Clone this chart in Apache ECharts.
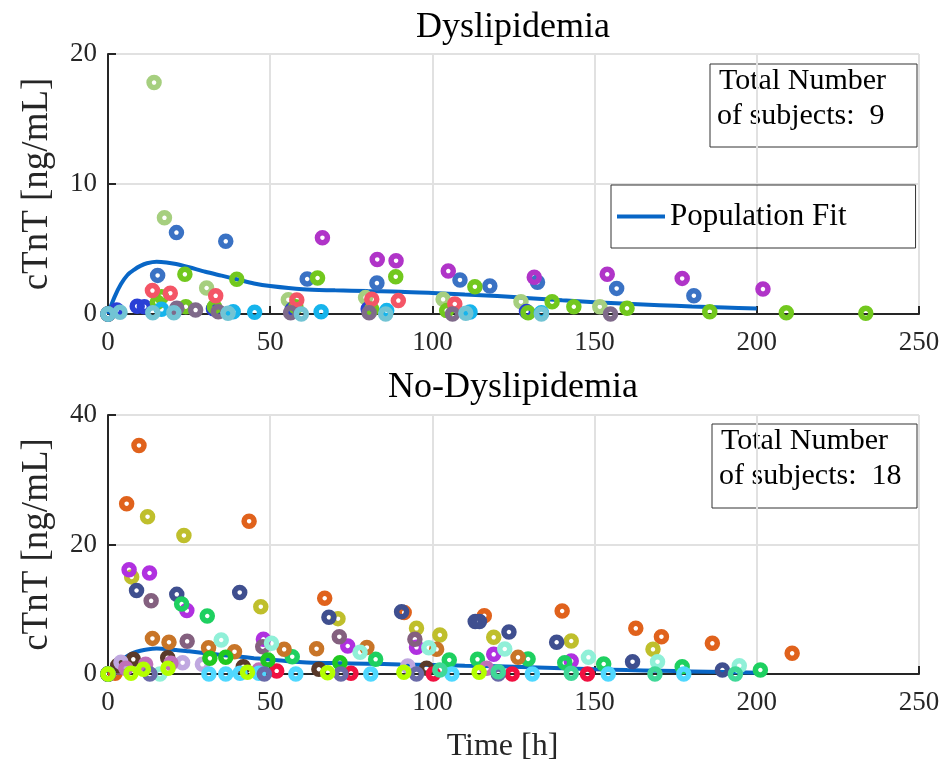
<!DOCTYPE html>
<html>
<head>
<meta charset="utf-8">
<title>cTnT</title>
<script src="https://cdn.jsdelivr.net/npm/echarts@6/dist/echarts.min.js"></script>
<style>
	html, body { margin: 0; padding: 0; background: #fff; }
	#main { width: 950px; height: 764px; }
</style>
</head>
<body>
<div id="main"></div>
<script>
// time axis ticks (h) and value ticks
const timeTicks = [0, 50, 100, 150, 200, 250];
const dysTicks = [0, 10, 20];
const noDysTicks = [0, 20, 40];

// population fit curves
const fitT = [0, 2, 4, 6, 8, 10, 12, 15, 18, 21, 25, 30, 35, 40, 45, 50, 60, 70, 80, 90, 100, 110, 120, 130, 140, 150, 160, 170, 180, 190, 200];
const fitDys = [0, 1.3, 2.3, 3.0, 3.4, 3.7, 3.9, 4.02, 3.97, 3.85, 3.6, 3.25, 2.95, 2.65, 2.35, 2.15, 1.9, 1.82, 1.76, 1.72, 1.62, 1.5, 1.38, 1.22, 1.05, 0.9, 0.78, 0.68, 0.58, 0.5, 0.42];
const fitNoDys = [0, 1.2, 2.1, 2.8, 3.3, 3.6, 3.8, 3.92, 3.85, 3.7, 3.5, 3.2, 2.95, 2.7, 2.45, 2.25, 1.82, 1.68, 1.58, 1.48, 1.39, 1.28, 1.18, 1.06, 0.88, 0.72, 0.6, 0.5, 0.4, 0.3, 0.2];

// Dyslipidemia subjects, [time, cTnT]
const dys1 = [[0, 0], [14.2, 17.8], [17.4, 7.4], [30.4, 2.0], [55.6, 1.1], [79.4, 1.26], [103.3, 1.13], [127.3, 0.95], [151.6, 0.56]];
const dys2 = [[0, 0], [15.3, 2.97], [21.1, 6.26], [36.3, 5.59], [61.4, 2.69], [82.9, 2.38], [108.5, 2.62], [117.7, 2.15], [132.4, 2.44], [156.8, 1.97], [180.6, 1.41]];
const dys3 = [[2.7, 0.3], [9.0, 0.6], [11.2, 0.56], [32.5, 0.4], [56.8, 0.35], [80.2, 0.38], [129, 0.2]];
const dys4 = [[0, 0], [66.1, 5.87], [83, 4.2], [88.8, 4.1], [104.9, 3.3], [131.4, 2.82], [153.9, 3.05], [177, 2.74], [201.9, 1.92]];
const dys5 = [[0, 0], [15.2, 0.9], [16.5, 1.33], [23.7, 3.05], [24, 0.56], [32.8, 0.56], [39.7, 2.67], [57.9, 0.56], [64.6, 2.77], [81.3, 0.36], [88.7, 2.87], [104.4, 0.26], [113.1, 2.1], [129.5, 0.1], [136.9, 0.95], [143.6, 0.56], [160, 0.44], [185.5, 0.18], [209.1, 0.1], [233.6, 0.05]];
const dys6 = [[0, 0], [13.7, 1.8], [19.2, 1.6], [33.2, 1.4], [58.2, 1.08], [81.3, 1.13], [89.5, 1.03], [106.9, 0.77]];
const dys7 = [[0, 0], [21.2, 0.44], [27, 0.3], [34, 0.18], [56.3, 0.1], [80.5, 0.1], [106.2, 0], [154.9, 0]];
const dys8 = [[0, 0], [16.5, 0.36], [38.6, 0.18], [45.2, 0.13], [65.7, 0.18], [85.9, 0.26], [111.6, 0.15], [133.6, 0.1]];
const dys9 = [[0, 0], [3.7, 0.13], [13.8, 0.1], [20.3, 0.1], [37, 0.05], [59.6, 0], [85.6, 0], [110.3, 0.05], [133.6, 0]];

// No-Dyslipidemia subjects, [time, cTnT]
const nod1 = [[2.2, 0.1], [5.75, 26.3], [9.55, 35.3], [43.5, 23.6], [66.8, 11.7], [91.3, 9.5], [116, 9.0], [140, 9.73], [162.7, 7.06], [170.6, 5.76], [186.3, 4.74], [210.9, 3.19]];
const nod2 = [[0, 0], [7.3, 15.0], [12.2, 24.3], [23.4, 21.4], [47.1, 10.4], [70.9, 8.55], [95.1, 7.05], [102.3, 6.02], [118.9, 5.66], [142.8, 5.1], [168, 3.81]];
const nod3 = [[0, 0], [6.5, 16.1], [12.8, 15.6], [24.3, 9.8], [47.9, 5.36], [73.9, 4.32], [95.1, 4.12], [118.9, 3.04], [142.8, 2.0]];
const nod4 = [[0, 0], [8.8, 12.9], [21.2, 12.3], [40.6, 12.6], [68.1, 8.75], [90.5, 9.6], [113.2, 8.1], [114.5, 8.1], [123.6, 6.49], [138.3, 4.9], [161.7, 1.9], [189.4, 0.62]];
const nod5 = [[0, 0], [3.5, 1.0], [13.3, 11.3], [24.4, 5.05], [47.7, 4.22], [71.3, 5.76], [94.6, 5.36]];
const nod6 = [[0, 0], [22.7, 10.8], [30.6, 8.96], [56.8, 2.67], [82.5, 2.27], [105.2, 2.16], [113.9, 2.27], [129.5, 2.32], [140.8, 1.75], [152.8, 1.54], [177, 1.13], [201.1, 0.62]];
const nod7 = [[0, 0], [13.7, 5.5], [18.8, 4.9], [31, 4.07], [39, 3.45], [54.3, 3.81], [64.3, 3.91], [79.8, 4.1], [101.3, 3.81], [126.4, 2.57]];
const nod8 = [[16, 0], [34.9, 5.25], [50.4, 4.74], [77.7, 3.35], [98.9, 4.06], [122.3, 3.86], [148.1, 2.57], [169.4, 1.9], [194.6, 1.29]];
const nod9 = [[0, 0], [3, 1.3], [7.8, 2.27], [18.4, 2.52], [41.7, 1.13], [65, 0.73], [98.2, 0.88]];
const nod10 = [[0, 0], [4, 1.8], [23, 1.75], [29.1, 1.5], [92.4, 1.24]];
const nod11 = [[0, 0], [5.5, 0.9], [11.6, 1.5], [19.4, 1.65], [46.5, 0.6], [116.7, 0.88]];
const nod12 = [[31.1, 0], [36.3, 0], [40.7, 0.1], [46.5, 0.1], [57.9, 0], [81, 0], [106, 0], [130.8, 0], [154.2, 0], [177.5, 0]];
const nod13 = [[0, 0], [52, 0.46], [74.9, 0.1], [100.3, 0], [124.6, 0], [147.8, 0]];
const nod14 = [[0, 0], [31.4, 2.42], [36.3, 2.58], [49.3, 2.16], [71.5, 1.75]];
const nod15 = [[0, 0], [12.9, 0], [48.2, 0], [71.8, 0], [95.1, 0], [120.3, 0]];
const nod16 = [[0, 0], [102.3, 0.62], [120.3, 0.36], [142.8, 0.1], [168.6, 0], [193.4, 0]];
const nod17 = [[0, 0], [7.1, 0.1], [10.9, 0.73], [18.5, 0.88], [43, 0.26], [67.7, 0.2], [91.2, 0.26], [114.4, 0.26]];

const dysSubjects = [dys1, dys2, dys3, dys4, dys5, dys6, dys7, dys8, dys9];
const noDysSubjects = [nod1, nod2, nod3, nod4, nod5, nod6, nod7, nod8, nod9, nod10, nod11, nod12, nod13, nod14, nod15, nod16, nod17];

const dysColors = ['#a6cf7f', '#3a72c4', '#2a3fd6', '#b034c8', '#72c81e', '#f45566', '#7f6a8a', '#16b4ec', '#72c4d4'];
const noDysColors = ['#e0621c', '#bfbf2c', '#b030e0', '#3f4f8f', '#84607f', '#1ed060', '#c87528', '#90f0d8', '#5a3a2a',
	'#c0a8e0', '#c070b8', '#50d8ff', '#f01040', '#20c820', '#6a6aa8', '#40d898', '#b4ff00'];

const FONT = 'Liberation Serif';
const INK = '#262626';

var chart = echarts.init(document.getElementById('main'), null, { renderer: 'canvas' });

function xAxisFor(gridIndex, withName) {
	return {
		type: 'value',
		gridIndex: gridIndex,
		min: timeTicks[0],
		max: timeTicks[timeTicks.length - 1],
		interval: timeTicks[1] - timeTicks[0],
		name: withName ? 'Time [h]' : '',
		nameLocation: 'middle',
		nameGap: 57,
		// nudge the name a little left, like the original
		nameTextStyle: { fontFamily: FONT, fontSize: 32, color: INK, padding: [0, 22, 0, 0] },
		axisLine: { lineStyle: { color: INK, width: 2 } },
		axisTick: { inside: true, length: 8, lineStyle: { color: INK, width: 2 } },
		axisLabel: { fontFamily: FONT, fontSize: 27, color: INK, margin: 15 },
		splitLine: { show: true, lineStyle: { color: '#e1e1e1', width: 2 } }
	};
}

function yAxisFor(gridIndex, ticks) {
	return {
		type: 'value',
		gridIndex: gridIndex,
		min: ticks[0],
		max: ticks[ticks.length - 1],
		interval: ticks[1] - ticks[0],
		name: 'cTnT [ng/mL]',
		nameLocation: 'middle',
		nameGap: 52,
		nameTextStyle: { fontFamily: FONT, fontSize: 37, color: INK },
		axisLine: { lineStyle: { color: INK, width: 2 } },
		axisTick: { inside: true, length: 8, lineStyle: { color: INK, width: 2 } },
		axisLabel: { fontFamily: FONT, fontSize: 27, color: INK, margin: 11 },
		splitLine: { show: true, lineStyle: { color: '#e1e1e1', width: 2 } }
	};
}

function fitSeries(idx, values) {
	return {
		name: 'Population Fit',
		type: 'line',
		xAxisIndex: idx,
		yAxisIndex: idx,
		data: fitT.map(function (t, i) { return [t, values[i]]; }),
		showSymbol: false,
		smooth: 0.3,
		z: 1,
		lineStyle: { color: '#0866c6', width: 4 },
		itemStyle: { color: '#0866c6' }
	};
}

function subjectSeries(idx, subjects, colors) {
	return subjects.map(function (pts, i) {
		return {
			type: 'scatter',
			xAxisIndex: idx,
			yAxisIndex: idx,
			data: pts,
			symbol: 'circle',
			symbolSize: 10,
			z: 2,
			itemStyle: { color: 'rgba(0,0,0,0)', borderColor: colors[i], borderWidth: 5.5, opacity: 1 }
		};
	});
}

// text box drawn like the matlab annotation
function noteBox(x, y, w, h, lines) {
	return {
		type: 'group',
		children: [{
			type: 'rect',
			shape: { x: x, y: y, width: w, height: h },
			style: { fill: 'none', stroke: '#333', lineWidth: 1 }
		}, {
			type: 'text',
			style: { x: x + 9, y: y + 17, text: lines[0], font: '30px "' + FONT + '"', fill: '#000', textVerticalAlign: 'middle' }
		}, {
			type: 'text',
			style: { x: x + 7, y: y + 52, text: lines[1], font: '30px "' + FONT + '"', fill: '#000', textVerticalAlign: 'middle' }
		}]
	};
}

option = {
	backgroundColor: '#fff',
	animation: false,
	grid: [
		{ left: 108, top: 54, width: 811, height: 260 },
		{ left: 108, top: 415, width: 811, height: 259 }
	],
	xAxis: [xAxisFor(0, false), xAxisFor(1, true)],
	yAxis: [yAxisFor(0, dysTicks), yAxisFor(1, noDysTicks)],
	legend: {
		data: [{ name: 'Population Fit', icon: 'rect' }],
		left: 611,
		top: 185,
		orient: 'vertical',
		itemWidth: 48,
		itemHeight: 4,
		itemGap: 0,
		padding: [16, 69, 16, 6],
		borderColor: '#333',
		borderWidth: 1,
		textStyle: { fontFamily: FONT, fontSize: 31, color: '#000' }
	},
	graphic: [
		{ type: 'text', style: { x: 513, y: 28, text: 'Dyslipidemia', font: '36px "' + FONT + '"', fill: '#000', textAlign: 'center', textVerticalAlign: 'middle' } },
		{ type: 'text', style: { x: 513, y: 388, text: 'No-Dyslipidemia', font: '36px "' + FONT + '"', fill: '#000', textAlign: 'center', textVerticalAlign: 'middle' } },
		noteBox(710, 64, 207, 83, ['Total Number', 'of subjects:  9']),
		noteBox(712, 424, 205, 84, ['Total Number', 'of subjects:  18'])
	],
	series: [fitSeries(0, fitDys), fitSeries(1, fitNoDys)]
		.concat(subjectSeries(0, dysSubjects, dysColors))
		.concat(subjectSeries(1, noDysSubjects, noDysColors))
};

chart.setOption(option);

window.onresize = function () {
	chart.resize();
};
</script>
</body>
</html>
